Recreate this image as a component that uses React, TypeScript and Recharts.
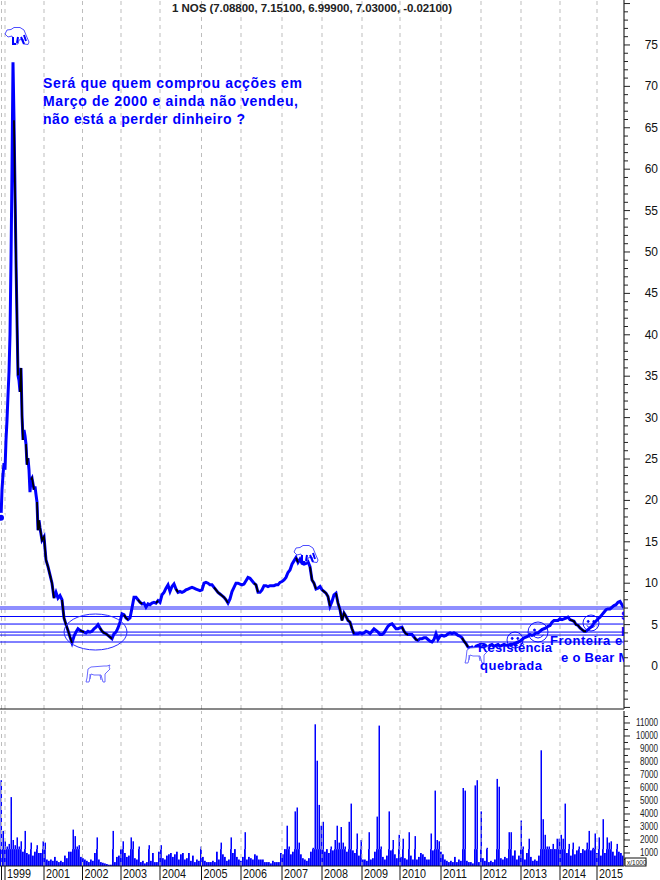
import React from "react";
import { ComposedChart, Line, Bar, XAxis, YAxis, ReferenceLine } from "recharts";

const spikeCloses = [
  17.9, 21.3, 23.1, 24.5, 23.7, 27.3, 29.7, 32.7, 35.5, 40, 49, 59.9, 72.9, 65.9, 57.5, 49, 41.8, 35.1, 34.5, 33.1,
  36, 30.3, 27.3, 28.5, 27.8, 26.8, 24.3, 25.1, 23.7, 21, 22.5, 22.7, 22, 21.3, 21.7, 20.7, 19.8, 16.4, 17.6, 16.7,
];
const laterCloses = [
  15.2, 15.6, 12.8, 12.0, 11.0, 10.0, 8.2, 8.9, 8.2, 8.5, 8.0, 5.8, 5.0, 4.3, 3.5, 2.8, 3.6, 4.1, 4.5, 4.3,
  4.2, 4.1, 4.0, 4.2, 4.1, 4.2, 4.5, 4.7, 5.0, 4.6, 4.2, 4.0, 3.9, 3.7, 3.5, 3.3, 3.9, 4.1, 4.6, 5.3,
  6.3, 6.2, 5.8, 5.6, 5.8, 7.0, 8.3, 8.3, 8.0, 7.7, 7.5, 7.6, 7.1, 7.5, 7.4, 7.6, 7.7, 7.6, 7.9, 7.7,
  8.6, 8.9, 9.4, 9.8, 9.0, 9.6, 9.9, 9.3, 8.9, 9.0, 8.9, 9.0, 9.2, 9.3, 9.4, 9.5, 9.4, 9.3, 9.2, 9.1,
  9.2, 10.0, 10.1, 10.0, 9.8, 9.8, 9.5, 9.2, 8.9, 8.7, 8.5, 8.3, 8.0, 7.6, 8.1, 9.0, 9.5, 10.0, 10.0, 9.9,
  9.8, 9.9, 10.3, 10.7, 10.6, 10.3, 10.0, 9.8, 8.9, 8.9, 9.2, 9.7, 9.7, 9.6, 9.7, 9.7, 9.7, 9.8, 9.8, 10.1,
  10.2, 10.4, 10.7, 11.3, 11.6, 12.3, 12.7, 13.1, 12.5, 12.9, 12.4, 12.3, 12.4, 12.6, 12.0, 10.4, 10.0, 9.3, 9.4, 9.6,
  9.2, 9.0, 8.8, 8.4, 7.2, 7.8, 8.6, 8.8, 7.6, 6.8, 5.5, 6.4, 6.0, 5.5, 5.3, 4.5, 3.9, 3.9, 3.9, 4.0,
  3.9, 4.0, 4.2, 4.1, 3.9, 4.2, 4.5, 4.3, 4.1, 3.8, 3.8, 4.0, 4.4, 4.8, 5.0, 5.1, 4.8, 4.5, 4.5, 4.6,
  4.7, 4.2, 3.9, 3.8, 3.8, 3.8, 3.5, 3.2, 3.1, 3.3, 3.3, 3.4, 3.4, 3.2, 3.0, 2.9, 3.2, 3.9, 3.2, 3.6,
  3.7, 3.6, 3.7, 3.9, 4.0, 3.9, 4.0, 3.9, 3.7, 3.6, 3.4, 3.0, 2.7, 2.3, 2.2, 2.3, 2.0, 2.4, 2.5, 2.2,
  2.3, 2.5, 2.4, 2.2, 2.5, 2.6, 2.4, 2.5, 2.6, 2.4, 2.5, 2.6, 2.5, 2.5, 2.6, 2.6, 2.7, 2.8, 2.9, 3.0,
  3.2, 3.4, 3.5, 3.6, 3.8, 3.7, 3.8, 4.0, 4.0, 4.2, 4.4, 4.5, 4.6, 4.8, 4.9, 5.3, 5.5, 5.5, 5.5, 5.7,
  5.6, 5.7, 5.8, 5.9, 5.6, 5.5, 5.4, 5.0, 4.9, 4.6, 4.4, 4.2, 4.2, 4.4, 4.6, 4.8, 5.2, 5.4, 5.7, 5.9,
  6.2, 6.5, 6.8, 6.9, 6.9, 7.1, 7.3, 7.4, 7.7, 7.8, 7.4, 7.03,
];
const volumes = [
  6600, 2700, 1900, 1500, 1700, 5300, 2000, 1600, 2200, 1500,
  1900, 1100, 2700, 1000, 900, 1800, 800, 1100, 1600, 1000,
  1000, 1900, 1800, 500, 400, 500, 400, 700, 400, 300,
  400, 300, 800, 600, 1100, 1100, 2800, 2300, 1500, 1600,
  700, 600, 500, 400, 300, 500, 400, 1000, 2200, 500,
  300, 250, 200, 150, 100, 100, 2700, 300, 700, 800,
  1300, 1900, 1000, 700, 800, 2200, 1900, 600, 500, 1500,
  300, 400, 200, 300, 1600, 400, 1000, 300, 300, 1100,
  1600, 600, 500, 800, 900, 1000, 700, 900, 1100, 500,
  900, 1000, 500, 600, 1000, 400, 800, 300, 500, 400,
  1500, 700, 400, 300, 300, 300, 400, 300, 1100, 500,
  1800, 900, 700, 400, 500, 2200, 1000, 1300, 700, 500,
  400, 700, 2600, 500, 700, 600, 500, 900, 800, 500,
  500, 500, 300, 300, 300, 200, 400, 300, 300, 300,
  1000, 900, 1300, 3100, 1500, 900, 1100, 4200, 4500, 1800,
  900, 600, 500, 400, 600, 1100, 1400, 10900, 8100, 4700,
  3100, 3400, 1100, 1300, 1000, 1500, 1200, 2000, 3100, 1800,
  3000, 1800, 1500, 1100, 3400, 4800, 1200, 1000, 2500, 800,
  2000, 500, 500, 400, 2600, 500, 600, 1100, 3800, 10800,
  1500, 700, 500, 800, 4200, 1200, 2000, 900, 600, 2400,
  700, 2100, 600, 500, 2600, 800, 500, 2300, 500, 700,
  1000, 900, 700, 500, 500, 2500, 1200, 5800, 2000, 1900,
  1100, 900, 500, 400, 300, 400, 300, 700, 300, 500,
  400, 6000, 5800, 400, 300, 300, 200, 6200, 6600, 300,
  4200, 600, 400, 1400, 300, 400, 300, 500, 6700, 6100,
  600, 500, 700, 600, 2600, 2600, 800, 1200, 500, 800,
  3500, 1500, 500, 1000, 2100, 700, 400, 500, 400, 800,
  8900, 3600, 2400, 1500, 1500, 1300, 1700, 1300, 2100, 2100,
  2400, 2100, 4800, 1000, 1700, 800, 1800, 900, 1200, 1500,
  1000, 1300, 1200, 1800, 2700, 1200, 1400, 2500, 1000, 2200,
  800, 3600, 1000, 2200, 1800, 1900, 1100, 800, 1700, 1100,
  1000, 800,
];
// Sessions (on the chart's sample axis) in which the price was falling: drawn black.
const fallingRuns = [
  [14, 18], [20, 23], [26, 28], [31, 34], [37, 40], [42, 46], [47, 54], [62, 72], [80, 84], [100, 112],
  [124, 128], [138, 142], [156, 158], [176, 178], [214, 228], [254, 258], [296, 298], [310, 316], [322, 330],
  [336, 354], [402, 408], [414, 418], [462, 468], [570, 586],
];
const supportLevels = [7.13, 6.88, 5.98, 5.07, 4.1, 3.74, 2.9];
const gridSessions = [1.5, 5, 44, 82.5, 121, 160, 201.5, 241, 282, 322, 362, 400, 441, 481, 521, 560, 597];
const yearLabels = ["", "1999", "2001", "2002", "2003", "2004", "2005", "2006", "2007", "2008", "2009", "2010", "2011", "2012", "2013", "2014", "2015"];
const priceTicks = [-5, -4, -3, -2, -1, 0, 1, 2, 3, 4, 5, 6, 7, 8, 9, 10, 15, 20, 25, 30, 35, 40, 45, 50, 55, 60, 65, 70, 75, 80,
  11, 12, 13, 14, 16, 17, 18, 19, 21, 22, 23, 24, 26, 27, 28, 29, 31, 32, 33, 34, 36, 37, 38, 39, 41, 42, 43, 44, 46, 47, 48, 49,
  51, 52, 53, 54, 56, 57, 58, 59, 61, 62, 63, 64, 66, 67, 68, 69, 71, 72, 73, 74, 76, 77, 78, 79];
const volumeTicks = [500, 1000, 1500, 2000, 2500, 3000, 3500, 4000, 4500, 5000, 5500, 6000, 6500, 7000, 7500, 8000, 8500, 9000, 9500, 10000, 10500, 11000, 11500];

const BLUE = "#0000ff";
const SOLID_VOLUME = 1300;
const priceRows = [
  ...spikeCloses.map((close, i) => ({ session: i + 1, close })),
  ...laterCloses.map((close, i) => ({ session: 42 + i * 2, close })),
].map((r) => ({
  ...r,
  falling: fallingRuns.some(([a, b]) => r.session >= a && r.session <= b) ? r.close : null,
}));
const volumeRows = volumes.map((volume, i) => ({ session: 1 + i * 2, volume }));

const PriceTick = (p: any) => {
  const v = p.payload.value;
  const major = v % 5 === 0;
  return (
    <g>
      <line x1={p.x} x2={p.x + (major ? 6 : 4)} y1={p.y} y2={p.y} stroke="#222" />
      {major && v >= 0 && v <= 75 ? (
        <text x={658} y={p.y + 4} textAnchor="end" fontSize={12} fill="#111" fontFamily="Liberation Sans">{v}</text>
      ) : null}
    </g>
  );
};
const VolumeTick = (p: any) => {
  const v = p.payload.value;
  const major = v % 1000 === 0;
  const width = v >= 10000 ? 22 : 18;
  return (
    <g>
      <line x1={p.x} x2={p.x + (major ? 6 : 4)} y1={p.y} y2={p.y} stroke="#222" />
      {major ? (
        <text x={658 - width} y={p.y + 3.5} fontSize={10} textLength={width} lengthAdjust="spacingAndGlyphs" fill="#222" fontFamily="Liberation Sans">{v}</text>
      ) : null}
    </g>
  );
};
const YearTick = (p: any) => {
  const label = yearLabels[gridSessions.indexOf(p.payload.value)];
  return (
    <g>
      <line x1={p.x} x2={p.x} y1={p.y} y2={p.y + 14} stroke="#111" />
      {label ? (
        <text x={p.x + 2} y={p.y + 11.5} fontSize={12} textLength={24} lengthAdjust="spacingAndGlyphs" fill="#111" fontFamily="Liberation Sans">{label}</text>
      ) : null}
    </g>
  );
};
// Tall bars are hair-thin above the solid mass at the bottom of the volume panel.
const VolumeBar = (p: any) => {
  const solid = p.volume > SOLID_VOLUME ? p.height * (SOLID_VOLUME / p.volume) : p.height;
  return (
    <g fill={BLUE}>
      <rect x={p.x} y={p.y + p.height - solid} width={p.width} height={solid} />
      {p.height > solid ? <rect x={p.x + 0.5} y={p.y} width={1.5} height={p.height - solid} /> : null}
    </g>
  );
};

const Bear = ({ x, y }: { x: number; y: number }) => (
  <g transform={`translate(${x},${y})`} fill="none" stroke="#3a3aff" strokeWidth={0.9}>
    <path d="M1 7 L3 3 L7 2.5 L10 0.5 L16 0.5 L20 3 L22 8 L25 15 L24 17.5 L20 17 L19 12 L15 13 L14 17 L10 17 L9 12 L8 9 L4 10 Z" fill="#fff" />
    <path d="M9 10 L9 17 L12 17 M14 10 L13 16 M17 10 L20 17 M20 8 L22 14" stroke={BLUE} strokeWidth={2} />
  </g>
);
const Bull = ({ x, y }: { x: number; y: number }) => (
  <g transform={`translate(${x},${y})`} fill="none" stroke="#5a5aff" strokeWidth={0.9}>
    <path d="M24 1 L21 2 L18 2 L5 3 L2 5 L1 14 L0 18 L3 18 L5 10 L8 11 L15 11 L17 18 L19 18 L19 10 L22 7 L24 5 L23 3 Z" fill="#fff" />
    <path d="M4 10 L4 15 M14 11 L15 16" />
  </g>
);
const Smiley = ({ cx, cy, r }: { cx: number; cy: number; r: number }) => (
  <g fill="none" stroke={BLUE} strokeWidth={0.9}>
    <circle cx={cx} cy={cy} r={r} />
    <circle cx={cx - r * 0.35} cy={cy - r * 0.2} r={1} fill={BLUE} />
    <circle cx={cx + r * 0.35} cy={cy - r * 0.2} r={1} fill={BLUE} />
    <path d={`M${cx - r * 0.55} ${cy + r * 0.3} Q${cx} ${cy + r * 0.9} ${cx + r * 0.55} ${cy + r * 0.3}`} />
  </g>
);

const noteProps = { fontFamily: "Liberation Sans", fontWeight: 700, fill: BLUE } as const;

export default function App() {
  return (
    <div style={{ position: "absolute", left: 0, top: 0, width: 660, height: 880, background: "#fff", overflow: "hidden" }}>
      <div style={{ position: "absolute", left: 0, top: 0 }}>
        <ComposedChart width={660} height={710} data={priceRows} margin={{ top: 0, right: 0, bottom: 0, left: 0 }}>
          <XAxis dataKey="session" type="number" domain={[0, 624]} height={1} tick={false} tickLine={false} axisLine={{ stroke: "#111" }} />
          <YAxis orientation="right" width={36} domain={[-5.19, 80.43]} allowDataOverflow ticks={priceTicks} interval={0} tickSize={0} tickMargin={0} tickLine={false} axisLine={{ stroke: "#555", strokeWidth: 1.5 }} tick={<PriceTick />} />
          {gridSessions.map((g) => (
            <ReferenceLine key={g} x={g} stroke="#bdbdbd" strokeDasharray="4 4" />
          ))}
          {supportLevels.map((l, i) => (
            <ReferenceLine key={l} y={l} stroke={i < 2 ? "#6a6aff" : BLUE} strokeWidth={i < 2 ? 1.4 : 1} />
          ))}
          <Line dataKey="close" stroke={BLUE} strokeWidth={3} dot={false} isAnimationActive={false} />
          <Line dataKey="falling" stroke="#000" strokeWidth={1.8} dot={false} connectNulls={false} isAnimationActive={false} />
        </ComposedChart>
      </div>
      <div style={{ position: "absolute", left: 0, top: 711 }}>
        <ComposedChart width={660} height={169} data={volumeRows} margin={{ top: 0, right: 0, bottom: 0, left: 0 }}>
          <XAxis dataKey="session" type="number" domain={[0, 624]} height={14} ticks={gridSessions} interval={0} tickSize={0} tickMargin={0} tickLine={false} axisLine={{ stroke: "#111" }} tick={<YearTick />} />
          <YAxis orientation="right" width={36} domain={[0, 11923]} allowDataOverflow ticks={volumeTicks} interval={0} tickSize={0} tickMargin={0} tickLine={false} axisLine={{ stroke: "#555", strokeWidth: 1.5 }} tick={<VolumeTick />} />
          {gridSessions.map((g) => (
            <ReferenceLine key={g} x={g} stroke="#bdbdbd" strokeDasharray="4 4" />
          ))}
          <Bar dataKey="volume" fill={BLUE} barSize={2} isAnimationActive={false} shape={<VolumeBar />} />
        </ComposedChart>
      </div>
      <svg width={660} height={880} style={{ position: "absolute", left: 0, top: 0, pointerEvents: "none" }}>
        <defs>
          <clipPath id="plotClip"><rect x={0} y={0} width={624} height={710} /></clipPath>
        </defs>
        <text x={172} y={12} fontFamily="Liberation Sans" fontWeight={700} fontSize={11.5} fill="#222" textLength={280} lengthAdjust="spacing">
          1 NOS (7.08800, 7.15100, 6.99900, 7.03000, -0.02100)
        </text>
        <text {...noteProps} x={43} y={88} fontSize={14} textLength={259} lengthAdjust="spacing">Será que quem comprou acções em</text>
        <text {...noteProps} x={43} y={106} fontSize={14} textLength={255} lengthAdjust="spacing">Março de 2000 e ainda não vendeu,</text>
        <text {...noteProps} x={43} y={124} fontSize={14} textLength={202} lengthAdjust="spacing">não está a perder dinheiro ?</text>
        <Bear x={4} y={27} />
        <Bear x={293} y={545} />
        <Bull x={86} y={664} />
        <Bull x={465} y={645} />
        <ellipse cx={95.5} cy={632} rx={31.5} ry={18} fill="none" stroke="#2a2aff" strokeWidth={1} />
        <Smiley cx={515} cy={640} r={8} />
        <Smiley cx={538} cy={632} r={10} />
        <Smiley cx={591} cy={623} r={8} />
        <g clipPath="url(#plotClip)">
          <text {...noteProps} x={478} y={652} fontSize={13} textLength={74} lengthAdjust="spacing">Resistência</text>
          <text {...noteProps} x={480} y={670} fontSize={13} textLength={62} lengthAdjust="spacing">quebrada</text>
          <text {...noteProps} x={550} y={645} fontSize={13} letterSpacing={0.5}>Fronteira entre</text>
          <text {...noteProps} x={561} y={662} fontSize={13} letterSpacing={0.3}>e o Bear Market</text>
          <text {...noteProps} x={621} y={620} fontSize={13}>S</text>
          <text {...noteProps} x={621} y={636} fontSize={13}>b</text>
        </g>
        <rect x={625} y={858} width={21} height={8} fill="#fff" stroke="#111" />
        <text x={627} y={864.5} fontSize={6.5} fill="#222" fontFamily="Liberation Sans">x/1000</text>
      </svg>
    </div>
  );
}
